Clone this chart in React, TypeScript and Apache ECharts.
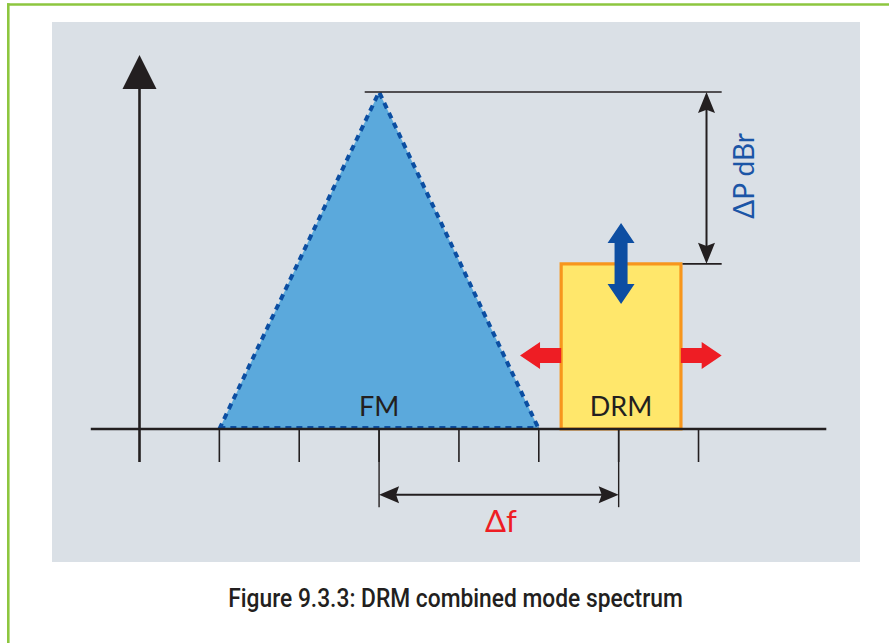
import React, { useEffect, useRef } from "react";
import * as echarts from "echarts";

// ---- diagram values (frequency units along x, level units along y) ----
const xTicks = [0, 1, 2, 3, 4, 5, 6, 7];
const fmTriangle: number[][] = [[1, 0], [3, 10], [5, 0]];
const drmBand = [5.28, 6.78];
const drmLevel = 4.9;
const drmCenter = 6.03;
const xAxisRange = [-0.61, 8.6];
const yAxisRange = [-0.98, 11.1];
const tickBottom = -0.98;
const deltaPColumn = 7.1;
const deltaPTopExt = [2.82, 7.29];
const deltaPLowExt = [6.8, 7.29];
const deltaFRow = -1.95;
const deltaFExtLow = -2.32;
const deltaFPair = [3, 6];
const shiftArrowLevel = 2.18;
const shiftArrowTips = [4.765, 7.29];
const levelArrowRange = [3.71, 6.11];
const labelTexts = ["FM", "DRM", "ΔP dBr", "Δf"];
const labelPos: number[][] = [[3, 0.71], [6.03, 0.71], [7.557, 7.51], [4.527, -2.7]];
const captionText = "Figure 9.3.3: DRM combined mode spectrum";

const INK = "#231F20";
const FONT = 'Lato, "DejaVu Sans", sans-serif';
const CAPTION_FONT = 'Roboto, "Liberation Sans", sans-serif';

type Pt = number[];

function head(tip: Pt, dx: number, dy: number, len: number, half: number, notch = 0.85): Pt[] {
  const px = -dy, py = dx;
  const bx = tip[0] - dx * len, by = tip[1] - dy * len;
  const nx = tip[0] - dx * len * notch, ny = tip[1] - dy * len * notch;
  return [tip, [bx + px * half, by + py * half], [nx, ny], [bx - px * half, by - py * half]];
}

function blockArrow(base: Pt, tip: Pt, headLen: number, headHalf: number, shaftHalf: number): Pt[] {
  const L = Math.hypot(tip[0] - base[0], tip[1] - base[1]);
  const dx = (tip[0] - base[0]) / L, dy = (tip[1] - base[1]) / L;
  const px = -dy, py = dx;
  const hb = [tip[0] - dx * headLen, tip[1] - dy * headLen];
  return [
    [base[0] + px * shaftHalf, base[1] + py * shaftHalf],
    [hb[0] + px * shaftHalf, hb[1] + py * shaftHalf],
    [hb[0] + px * headHalf, hb[1] + py * headHalf],
    tip,
    [hb[0] - px * headHalf, hb[1] - py * headHalf],
    [hb[0] - px * shaftHalf, hb[1] - py * shaftHalf],
    [base[0] - px * shaftHalf, base[1] - py * shaftHalf],
  ];
}

function doubleVArrow(top: Pt, bottom: Pt, headLen: number, headHalf: number, shaftHalf: number): Pt[] {
  const x = top[0];
  return [
    top,
    [x + headHalf, top[1] + headLen],
    [x + shaftHalf, top[1] + headLen],
    [x + shaftHalf, bottom[1] - headLen],
    [x + headHalf, bottom[1] - headLen],
    bottom,
    [x - headHalf, bottom[1] - headLen],
    [x - shaftHalf, bottom[1] - headLen],
    [x - shaftHalf, top[1] + headLen],
    [x - headHalf, top[1] + headLen],
  ];
}

const line = (a: Pt, b: Pt, w: number, color = INK, extra: any = {}) => ({
  type: "line",
  shape: { x1: a[0], y1: a[1], x2: b[0], y2: b[1] },
  style: { stroke: color, lineWidth: w, ...extra },
});

function measure(text: string, font: string): number {
  try {
    const c = document.createElement("canvas").getContext("2d");
    if (!c) return 0;
    c.font = font;
    return c.measureText(text).width;
  } catch (e) {
    return 0;
  }
}

export default function App() {
  const ref = useRef<HTMLDivElement>(null);

  useEffect(() => {
    if (!ref.current) return;
    const chart = echarts.init(ref.current, undefined, { renderer: "svg" });

    const renderFM = (_p: any, api: any) => {
      const pts = fmTriangle.map((p) => api.coord(p));
      return {
        type: "group",
        children: [
          { type: "polygon", shape: { points: pts }, style: { fill: "#5BA9DC" } },
          {
            type: "polyline",
            shape: { points: pts },
            style: { stroke: "#0B4EA2", lineWidth: 4, lineDash: [6, 5], fill: null },
          },
          line([pts[0][0], pts[0][1] - 2], [pts[2][0], pts[2][1] - 2], 2, "#0B4EA2", { lineDash: [6, 5] }),
        ],
      };
    };

    const renderDRM = (_p: any, api: any) => {
      const a = api.coord([drmBand[0], drmLevel]);
      const b = api.coord([drmBand[1], 0]);
      return {
        type: "rect",
        shape: { x: a[0], y: a[1], width: b[0] - a[0], height: b[1] - a[1] },
        style: { fill: "#FFE76B", stroke: "#F7961D", lineWidth: 3.2 },
      };
    };

    const renderAxes = (_p: any, api: any) => {
      const children: any[] = [];
      xTicks.forEach((t) => {
        if (t === 0) return;
        children.push(line(api.coord([t, 0]), api.coord([t, tickBottom]), 1.6));
      });
      children.push(line(api.coord([xAxisRange[0], 0]), api.coord([xAxisRange[1], 0]), 2.6));
      const yTip = api.coord([0, yAxisRange[1]]);
      children.push(line(api.coord([0, yAxisRange[0]]), [yTip[0], yTip[1] + 30], 2.6));
      children.push({
        type: "polygon",
        shape: { points: [yTip, [yTip[0] + 17, yTip[1] + 34], [yTip[0] - 17, yTip[1] + 34]] },
        style: { fill: INK },
      });
      return { type: "group", children };
    };

    const renderDims = (_p: any, api: any) => {
      const children: any[] = [];
      const fmPeakLevel = fmTriangle[1][1];
      children.push(line(api.coord([deltaPTopExt[0], fmPeakLevel]), api.coord([deltaPTopExt[1], fmPeakLevel]), 1.6));
      children.push(line(api.coord([deltaPLowExt[0], drmLevel]), api.coord([deltaPLowExt[1], drmLevel]), 1.6));
      const pTop = api.coord([deltaPColumn, fmPeakLevel]);
      const pBot = api.coord([deltaPColumn, drmLevel]);
      children.push(line([pTop[0], pTop[1] + 10], [pBot[0], pBot[1] - 10], 2));
      children.push({ type: "polygon", shape: { points: head(pTop, 0, -1, 21, 8.5) }, style: { fill: INK } });
      children.push({ type: "polygon", shape: { points: head(pBot, 0, 1, 21, 8.5) }, style: { fill: INK } });
      deltaFPair.forEach((x) => {
        children.push(line(api.coord([x, 0]), api.coord([x, deltaFExtLow]), 1.4));
      });
      const fL = api.coord([deltaFPair[0], deltaFRow]);
      const fR = api.coord([deltaFPair[1], deltaFRow]);
      children.push(line([fL[0] + 10, fL[1]], [fR[0] - 10, fR[1]], 2));
      children.push({ type: "polygon", shape: { points: head(fL, -1, 0, 20, 8.5) }, style: { fill: INK } });
      children.push({ type: "polygon", shape: { points: head(fR, 1, 0, 20, 8.5) }, style: { fill: INK } });
      return { type: "group", children };
    };

    const renderShifts = (_p: any, api: any) => {
      const left = blockArrow(
        api.coord([drmBand[0], shiftArrowLevel]),
        api.coord([shiftArrowTips[0], shiftArrowLevel]),
        20, 13.5, 7.5
      );
      const right = blockArrow(
        api.coord([drmBand[1], shiftArrowLevel]),
        api.coord([shiftArrowTips[1], shiftArrowLevel]),
        20, 13.5, 7.5
      );
      const vert = doubleVArrow(
        api.coord([drmCenter, levelArrowRange[1]]),
        api.coord([drmCenter, levelArrowRange[0]]),
        20, 13.5, 6.5
      );
      return {
        type: "group",
        children: [
          { type: "polygon", shape: { points: left }, style: { fill: "#EE1D24" } },
          { type: "polygon", shape: { points: right }, style: { fill: "#EE1D24" } },
          { type: "polygon", shape: { points: vert }, style: { fill: "#0D4EA2" } },
        ],
      };
    };

    const renderLabels = (_p: any, api: any) => {
      const colors = [INK, INK, "#1B55A6", "#EE1D24"];
      const sizes = [27, 27, 28, 31];
      const rot = [0, 0, Math.PI / 2, 0];
      return {
        type: "group",
        children: labelTexts.map((t, i) => {
          const c = api.coord(labelPos[i]);
          return {
            type: "text",
            x: c[0],
            y: c[1],
            rotation: rot[i],
            style: {
              text: t,
              x: 0,
              y: 0,
              fill: colors[i],
              fontSize: sizes[i],
              fontFamily: FONT,
              align: "center",
              verticalAlign: "middle",
            },
          };
        }),
      };
    };

    const custom = (name: string, renderItem: any, z: number) => ({
      type: "custom",
      name,
      data: [[0, 0]],
      renderItem,
      silent: true,
      clip: false,
      z,
    });

    const capW = measure(captionText, "500 25px " + CAPTION_FONT);
    const capScale = capW > 0 ? 455 / capW : 1;

    chart.setOption({
      animation: false,
      backgroundColor: "#ffffff",
      grid: { left: 59.64, right: 30.76, top: 24.6, bottom: 79.2 },
      xAxis: { type: "value", min: -1, max: 9, show: false },
      yAxis: { type: "value", min: -4, max: 12, show: false },
      graphic: [
        {
          type: "rect",
          shape: { x: 52, y: 22, width: 808, height: 540 },
          style: { fill: "#DAE0E6" },
          z: -10,
        },
        {
          type: "line",
          shape: { x1: 7, y1: 4.5, x2: 889, y2: 4.5 },
          style: { stroke: "#8DC63F", lineWidth: 2.6 },
        },
        {
          type: "line",
          shape: { x1: 8.3, y1: 3.2, x2: 8.3, y2: 643 },
          style: { stroke: "#8DC63F", lineWidth: 2.6 },
        },
        {
          type: "text",
          x: 455.5,
          y: 599,
          scaleX: capScale,
          style: {
            text: captionText,
            fill: INK,
            fontSize: 25,
            fontWeight: 500,
            fontFamily: CAPTION_FONT,
            align: "center",
            verticalAlign: "middle",
          },
        },
      ],
      series: [
        custom("FM", renderFM, 2),
        custom("DRM", renderDRM, 3),
        custom("axes", renderAxes, 4),
        custom("dims", renderDims, 5),
        custom("shifts", renderShifts, 6),
        custom("labels", renderLabels, 7),
      ],
    });

    return () => chart.dispose();
  }, []);

  return (
    <div
      ref={ref}
      style={{ position: "fixed", left: 0, top: 0, width: 889, height: 643, background: "#fff" }}
    />
  );
}
